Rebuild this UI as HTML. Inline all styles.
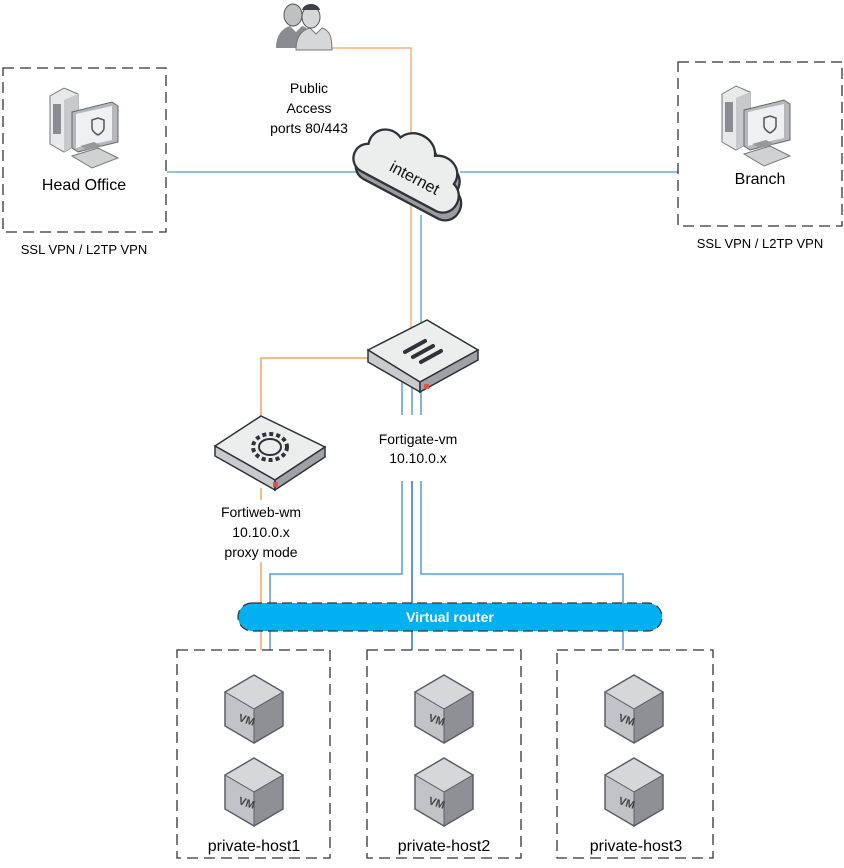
<!DOCTYPE html>
<html><head><meta charset="utf-8"><style>
html,body{margin:0;padding:0;background:#fff;}
svg{display:block;font-family:"Liberation Sans",sans-serif;}
</style></head><body>
<svg width="844" height="868" viewBox="0 0 844 868" xmlns="http://www.w3.org/2000/svg">
<defs>
<g id="cube">
<polygon points="0,-34 29,-17 0,0 -29,-17" fill="#d6d7d9" stroke="#5b5f66" stroke-width="1"/>
<polygon points="-29,-17 0,0 0,34 -29,17" fill="#c2c3c6" stroke="#5b5f66" stroke-width="1"/>
<polygon points="29,-17 0,0 0,34 29,17" fill="#8e9096" stroke="#5b5f66" stroke-width="1"/>
<polygon points="0,-34 29,-17 29,17 0,34 -29,17 -29,-17" fill="none" stroke="#5b5f66" stroke-width="1.5"/>
<text x="-15" y="12" font-size="11" font-weight="bold" fill="#444" transform="rotate(18 -15 8)">VM</text>
</g>
<g id="pc">
<polygon points="0,10 14,2 28,8 28,58 14,66 0,58" fill="#e8e9ea" stroke="#777" stroke-width="1"/>
<polygon points="14,14 28,8 28,58 14,66" fill="#c8c9cb"/>
<rect x="3" y="18" width="8" height="30" fill="#8a8c90"/>
<polygon points="22,26 62,16 68,20 68,56 28,66 22,62" fill="#b5b7ba" stroke="#666" stroke-width="1"/>
<polygon points="26,28 62,20 62,54 26,62" fill="#eef0f1"/>
<path d="M42,34 l6,-2 6,2 v8 c0,4 -6,7 -6,7 c0,0 -6,-3 -6,-7z" fill="none" stroke="#555" stroke-width="1.5"/>
<polygon points="22,70 48,62 68,72 42,82" fill="#d0d1d3" stroke="#777" stroke-width="1"/>
<polygon points="30,60 44,56 52,60 38,64" fill="#999"/>
</g>
</defs>

<g fill="none" stroke-width="1.5">
<path d="M332,48 H411 V342" stroke="#f4b183"/>
<path d="M167,172 H380 M460,172 H678" stroke="#6fa8dc"/>
<path d="M421,215 V345" stroke="#6fa8dc"/>
<path d="M368,358 H261 V420" stroke="#f4a462"/>
<path d="M261,488 V500" stroke="#f4a462"/>
<path d="M261,562 V650" stroke="#f4a462"/>
<path d="M402,380 V415 M412,380 V415 M421,380 V415" stroke="#5b9bd5"/>
<path d="M402,481 V574 H270 V650" stroke="#5b9bd5"/>
<path d="M412,481 V650" stroke="#2e75b6"/>
<path d="M421,481 V574 H623 V650" stroke="#5b9bd5"/>
</g>

<g fill="none" stroke="#333" stroke-width="1.3" stroke-dasharray="11,6">
<rect x="3" y="68" width="163" height="164"/>
<rect x="678" y="62" width="164" height="164"/>
<rect x="177" y="650" width="153" height="208"/>
<rect x="367" y="650" width="154" height="208"/>
<rect x="557" y="650" width="156" height="208"/>
</g>

<g>
<path d="M276,48 c0,-12 6,-20 14,-22 l6,6 6,-6 c8,2 10,10 10,22z" fill="#8a8c90"/>
<ellipse cx="293" cy="15" rx="9" ry="11" fill="#bfc0c2" stroke="#555" stroke-width="1"/>
<path d="M296,50 c0,-14 6,-20 14,-22 l6,6 6,-6 c8,2 10,10 10,22z" fill="#d6d7d9" stroke="#777"/>
<ellipse cx="311" cy="17" rx="9" ry="11" fill="#d6d7d9" stroke="#555" stroke-width="1"/>
<path d="M302,10 c2,-8 16,-8 18,0" fill="#3c3f44"/>
</g>
<text x="309" y="93" font-size="14" text-anchor="middle" fill="#000">Public</text>
<text x="309" y="113" font-size="14" text-anchor="middle" fill="#000">Access</text>
<text x="309" y="133" font-size="14" text-anchor="middle" fill="#000">ports 80/443</text>

<g transform="translate(418,178) rotate(28) scale(1.15)">
<path d="M-46,18 c-14,0 -18,-18 -6,-24 c-4,-14 10,-24 22,-18 c6,-14 28,-14 34,0 c12,-8 28,0 26,14 c14,4 14,26 -2,28z" fill="#9a9ca0" stroke="#2f3338" stroke-width="2" transform="translate(5,5)"/>
<path d="M-46,18 c-14,0 -18,-18 -6,-24 c-4,-14 10,-24 22,-18 c6,-14 28,-14 34,0 c12,-8 28,0 26,14 c14,4 14,26 -2,28z" fill="#eceded" stroke="#2f3338" stroke-width="2"/>
<text x="-26" y="6" font-size="14" fill="#111">internet</text>
</g>

<use href="#pc" x="50" y="86"/>
<use href="#pc" x="722" y="84"/>
<text x="84" y="190" font-size="16" text-anchor="middle" fill="#000">Head Office</text>
<text x="760" y="184" font-size="16" text-anchor="middle" fill="#000">Branch</text>
<text x="84" y="254" font-size="13" text-anchor="middle" fill="#000">SSL VPN / L2TP VPN</text>
<text x="760" y="248" font-size="13" text-anchor="middle" fill="#000">SSL VPN / L2TP VPN</text>

<g>
<polygon points="368,350 427,320 478,350 420,382" fill="#eceded" stroke="#2f3338" stroke-width="1.5"/>
<polygon points="368,350 420,382 420,392 368,362" fill="#c9cacc" stroke="#2f3338" stroke-width="1.5"/>
<polygon points="420,382 478,350 478,360 420,392" fill="#9fa1a5" stroke="#2f3338" stroke-width="1.5"/>
<g stroke="#2f3338" stroke-width="4" stroke-linecap="round">
<line x1="405" y1="352" x2="425" y2="341"/>
<line x1="413" y1="357" x2="433" y2="346"/>
<line x1="421" y1="362" x2="441" y2="351"/>
</g>
<rect x="424" y="384" width="5" height="5" fill="#d9534f"/>
</g>
<text x="418" y="444" font-size="14" text-anchor="middle" fill="#000">Fortigate-vm</text>
<text x="418" y="463" font-size="14" text-anchor="middle" fill="#000">10.10.0.x</text>

<g>
<polygon points="215,446 261,416 325,447 275,480" fill="#eceded" stroke="#2f3338" stroke-width="1.5"/>
<polygon points="215,446 275,480 275,490 215,456" fill="#c9cacc" stroke="#2f3338" stroke-width="1.5"/>
<polygon points="275,480 325,447 325,457 275,490" fill="#9fa1a5" stroke="#2f3338" stroke-width="1.5"/>
<ellipse cx="270" cy="447" rx="17" ry="13" fill="none" stroke="#2f3338" stroke-width="4" stroke-dasharray="4,3"/>
<ellipse cx="270" cy="447" rx="11" ry="8" fill="none" stroke="#2f3338" stroke-width="2"/>
<rect x="273" y="482" width="5" height="5" fill="#d9534f"/>
</g>
<text x="261" y="517" font-size="14" text-anchor="middle" fill="#000">Fortiweb-wm</text>
<text x="261" y="537" font-size="14" text-anchor="middle" fill="#000">10.10.0.x</text>
<text x="261" y="557" font-size="14" text-anchor="middle" fill="#000">proxy mode</text>

<rect x="238" y="603" width="424" height="28" rx="14" fill="#00b0f0" stroke="#333" stroke-width="1.2" stroke-dasharray="10,5"/>
<text x="450" y="622" font-size="14" font-weight="bold" text-anchor="middle" fill="#fff">Virtual router</text>

<use href="#cube" x="254" y="709"/>
<use href="#cube" x="254" y="792"/>
<use href="#cube" x="444" y="709"/>
<use href="#cube" x="444" y="792"/>
<use href="#cube" x="634" y="709"/>
<use href="#cube" x="634" y="792"/>
<text x="254" y="851" font-size="16" text-anchor="middle" fill="#000">private-host1</text>
<text x="444" y="851" font-size="16" text-anchor="middle" fill="#000">private-host2</text>
<text x="636" y="851" font-size="16" text-anchor="middle" fill="#000">private-host3</text>
</svg>
</body></html>
